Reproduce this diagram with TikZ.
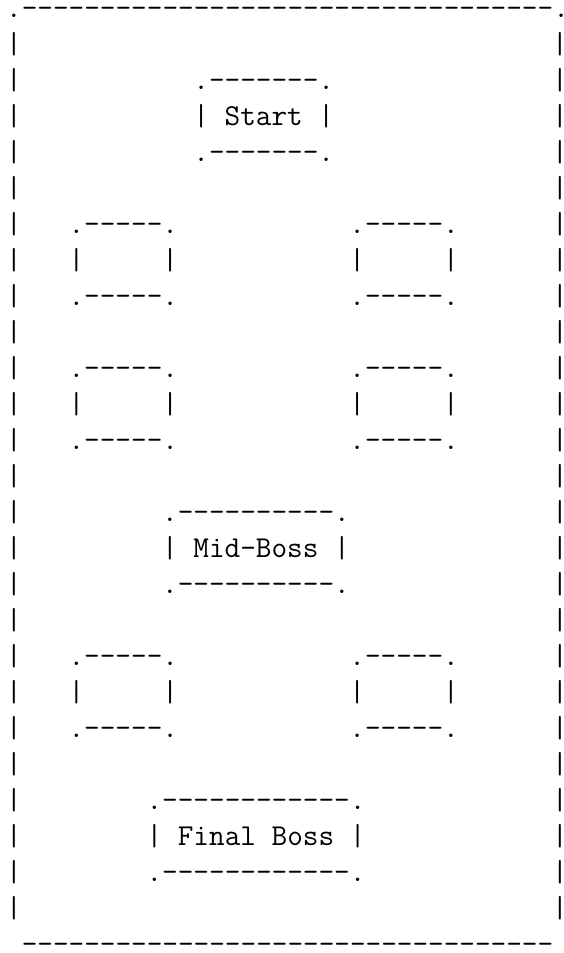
\documentclass[tikz,border=0pt]{standalone}
\usepackage{fontspec}
\tikzset{
  asc/.style={anchor=base west, inner sep=0pt, outer sep=0pt,
    font=\ttfamily\fontsize{30.35}{36}\selectfont, text=black}
}
% place a text fragment at character column #2, text row #3
\newcommand\asc[4]{\node[asc] (#1) at ({6.2+15.6*(#2)},{-(17.3+36*(#3))}) {#4};}
% an empty 7-character box whose top line is on row #3
\newcommand\emptybox[3]{%
  \asc{#1t}{#2}{#3}{.-----.}
  \asc{#1m}{#2}{#3+1}{|~~~~~|}
  \asc{#1b}{#2}{#3+2}{.-----.}}
\begin{document}
\begin{tikzpicture}[x=1pt,y=1pt]
\useasboundingbox (0,0) rectangle (563,-953);
% outer frame
\asc{top}{0}{0}{.----------------------------------.}
\foreach \r in {1,...,25}{
  \asc{fl\r}{0}{\r}{|}
  \asc{fr\r}{35}{\r}{|}
}
\asc{bottom}{1}{26}{----------------------------------}
% start
\asc{startt}{12}{2}{.-------.}
\asc{start}{12}{3}{| Start |}
\asc{startb}{12}{4}{.-------.}
% rooms
\emptybox{a}{4}{6}
\emptybox{b}{22}{6}
\emptybox{c}{4}{10}
\emptybox{d}{22}{10}
% mid-boss
\asc{midt}{10}{14}{.----------.}
\asc{mid}{10}{15}{| Mid-Boss |}
\asc{midb}{10}{16}{.----------.}
% more rooms
\emptybox{e}{4}{18}
\emptybox{f}{22}{18}
% final boss
\asc{finalt}{9}{22}{.------------.}
\asc{final}{9}{23}{| Final Boss |}
\asc{finalb}{9}{24}{.------------.}
\end{tikzpicture}
\end{document}
